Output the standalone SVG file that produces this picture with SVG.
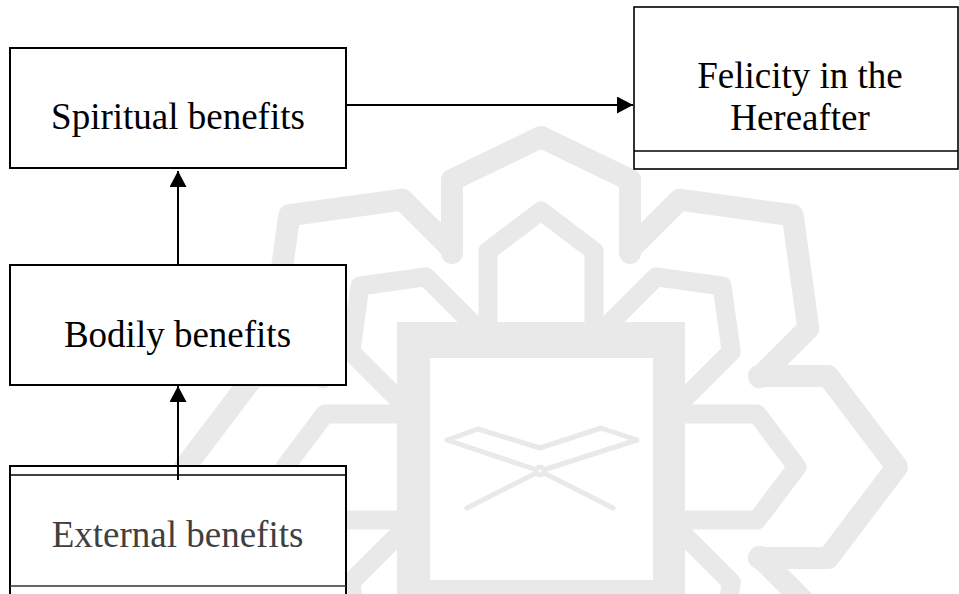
<svg xmlns="http://www.w3.org/2000/svg" xmlns:xlink="http://www.w3.org/1999/xlink" width="959" height="594" viewBox="0 0 959 594">
  <style>
    .box { fill: #ffffff; stroke: #000000; stroke-width: 2; }
    .sep { stroke: #000000; stroke-width: 1.6; fill: none; }
    .lbl { font-family: "Liberation Serif", "Times New Roman", serif; font-size: 37px; fill: #000000; text-anchor: middle; }
    .grey { fill: #404040; }
    .wm { fill: none; stroke: #e9e9e9; stroke-linecap: round; stroke-linejoin: round; }
    .conn { stroke: #000000; stroke-width: 2; fill: none; }
  </style>
  <defs>
    <path id="petalOuterV" d="M -89,-214 L -89,-287 L 0,-330 L 89,-287 L 89,-214"/>
    <path id="petalOuterD" d="M -91,-218 L -91,-287 L 0,-356 L 91,-287 L 91,-218"/>
    <path id="petalInner" d="M -53,-100 L -53,-216 L 0,-256 L 53,-216 L 53,-100"/>
    <marker id="arr" viewBox="0 0 16 17" refX="16" refY="8.5" markerWidth="16" markerHeight="17" markerUnits="userSpaceOnUse" orient="auto">
      <path d="M0,0 L16,8.5 L0,17 z" fill="#000000"/>
    </marker>
  </defs>
  <rect x="0" y="0" width="959" height="594" fill="#ffffff"/>

  <g id="watermark">
    <g class="wm" stroke-width="22" transform="translate(541,467)">
      <use xlink:href="#petalOuterV" transform="rotate(0)"/>
      <use xlink:href="#petalOuterD" transform="rotate(45)"/>
      <use xlink:href="#petalOuterD" transform="rotate(90)"/>
      <use xlink:href="#petalOuterD" transform="rotate(135)"/>
      <use xlink:href="#petalOuterV" transform="rotate(180)"/>
      <use xlink:href="#petalOuterD" transform="rotate(225)"/>
      <use xlink:href="#petalOuterD" transform="rotate(270)"/>
      <use xlink:href="#petalOuterD" transform="rotate(315)"/>
    </g>
    <g class="wm" stroke-width="19" transform="translate(541,467)">
      <use xlink:href="#petalInner" transform="rotate(0)"/>
      <use xlink:href="#petalInner" transform="rotate(45)"/>
      <use xlink:href="#petalInner" transform="rotate(90)"/>
      <use xlink:href="#petalInner" transform="rotate(135)"/>
      <use xlink:href="#petalInner" transform="rotate(180)"/>
      <use xlink:href="#petalInner" transform="rotate(225)"/>
      <use xlink:href="#petalInner" transform="rotate(270)"/>
      <use xlink:href="#petalInner" transform="rotate(315)"/>
    </g>
    <rect x="397" y="322" width="288" height="300" fill="#e9e9e9"/>
    <rect x="430" y="358" width="223" height="222" fill="#ffffff"/>
    <g class="wm" stroke-width="5">
      <path d="M 447,440 L 478,429 L 540,448 L 601,428 L 637,440"/>
      <path d="M 447,440 L 540,471 L 613,508"/>
      <path d="M 637,440 L 540,471 L 467,508"/>
      <circle cx="540" cy="471" r="4" fill="#ffffff"/>
    </g>
  </g>

  <g id="node-spiritual">
    <rect class="box" x="10" y="48" width="336" height="120"/>
    <text class="lbl" x="178" y="129">Spiritual benefits</text>
  </g>

  <g id="node-felicity">
    <rect class="box" x="634" y="7" width="324" height="162" style="stroke-width:1.6"/>
    <line class="sep" x1="634" y1="151" x2="958" y2="151"/>
    <text class="lbl" x="800" y="88">Felicity in the</text>
    <text class="lbl" x="800" y="130">Hereafter</text>
  </g>

  <g id="node-bodily">
    <rect class="box" x="10" y="265" width="336" height="120"/>
    <text class="lbl" x="177.5" y="347">Bodily benefits</text>
  </g>

  <g id="node-external">
    <rect class="box" x="10" y="466" width="336" height="140"/>
    <line class="sep" x1="10" y1="475" x2="346" y2="475"/>
    <line class="sep" x1="10" y1="586" x2="346" y2="586" style="stroke:#333333"/>
    <text class="lbl grey" x="177.5" y="547">External benefits</text>
  </g>

  <g id="connectors">
    <line class="conn" x1="347" y1="105" x2="633" y2="105" marker-end="url(#arr)"/>
    <line class="conn" x1="178" y1="264" x2="178" y2="171" marker-end="url(#arr)"/>
    <line class="conn" x1="178" y1="480" x2="178" y2="386" marker-end="url(#arr)"/>
  </g>
</svg>
